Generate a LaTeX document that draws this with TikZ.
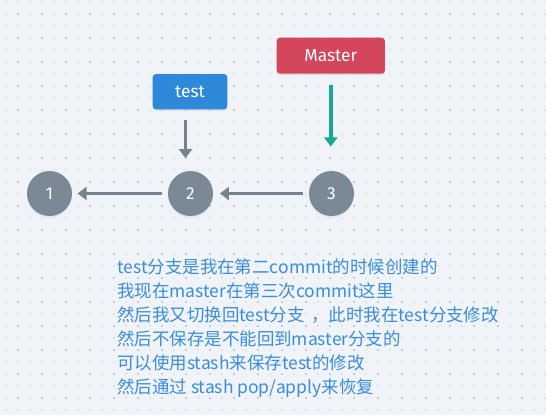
\documentclass[tikz,border=0pt]{standalone}
\usepackage{fontspec}
\setmainfont{Fira Sans}
\newfontfamily\cjk{Noto Sans CJK SC}
\usetikzlibrary{arrows.meta,shadows}

\definecolor{bgcol}{HTML}{F0F3F7}
\definecolor{dotlight}{HTML}{E0E4EA}
\definecolor{dotdark}{HTML}{C6CDD7}
\definecolor{commitgray}{HTML}{7B8997}
\definecolor{linkgray}{HTML}{77848F}
\definecolor{testblue}{HTML}{2E89DB}
\definecolor{masterred}{HTML}{D4465C}
\definecolor{headteal}{HTML}{17A991}
\definecolor{noteblue}{HTML}{3A8DDF}

\begin{document}
\begin{tikzpicture}[x=0.75pt,y=-0.75pt,
    softshadow/.style={drop shadow={opacity=0.12,shadow xshift=0pt,shadow yshift=-1.2pt}},
    commit/.style={circle,fill=commitgray,text=white,minimum size=33.75pt,inner sep=0pt,
                   font=\fontsize{13pt}{15pt}\selectfont,softshadow},
    branch/.style={rounded corners=2.5pt,text=white,inner sep=0pt,
                   font=\fontsize{13pt}{15pt}\selectfont,softshadow},
    link/.style={line width=2.4pt,draw=linkgray,-{Triangle[width=9.75pt,length=6.75pt]}},
    headlink/.style={line width=2.7pt,draw=headteal,-{Triangle[width=9.75pt,length=6.75pt]}},
    note/.style={text=noteblue,inner sep=0pt,font=\cjk\fontsize{13.1pt}{18pt}\selectfont}]
  \useasboundingbox (0,0) rectangle (546,415);
  \fill[bgcol] (0,0) rectangle (546,415);
  % dotted grid
  \foreach \i in {0,...,45}
    \foreach \j in {0,...,34}
      \fill[dotlight] (5+12*\i,1+12*\j) rectangle ++(2,2);
  \foreach \i in {0,...,22}
    \foreach \j in {0,...,16}
      \fill[dotdark] (17+24*\i,13+24*\j) rectangle ++(2,2);

  % commits
  \node[commit] (c1) at (49.5,193.5)  {1};
  \node[commit] (c2) at (190.5,193.5) {2};
  \node[commit] (c3) at (331.5,193.5) {3};
  % branches
  \node[branch,fill=testblue,minimum width=56pt,minimum height=26.5pt]
        (test)   at (190,91.7)   {test};
  \node[branch,fill=masterred,minimum width=81.2pt,minimum height=27pt]
        (master) at (330.8,55.7) {Master};

  \draw[link,shorten <=4.5pt,shorten >=4pt] (c2) -- (c1);
  \draw[link,shorten <=4.5pt,shorten >=5pt] (c3) -- (c2);
  \draw[link,shorten <=8pt,shorten >=9.5pt]
        ([xshift=-3.4pt]test.south) -- ([xshift=-3.4pt]test.south |- c2.north);
  \draw[headlink,shorten <=8pt,shorten >=18.2pt]
        (master.south) -- (master.south |- c3.north);

  % explanation
  \foreach \t [count=\k] in {test分支是我在第二commit的时候创建的,
                            我现在master在第三次commit这里,
                            然后我又切换回test分支\hspace{0.37em}，此时我在test分支修改,
                            然后不保存是不能回到master分支的,
                            可以使用stash来保存test的修改,
                            然后通过 stash pop/apply来恢复}
    \node[note,anchor=base west] (line\k) at (117,249.3+24*\k) {\t};
\end{tikzpicture}
\end{document}
